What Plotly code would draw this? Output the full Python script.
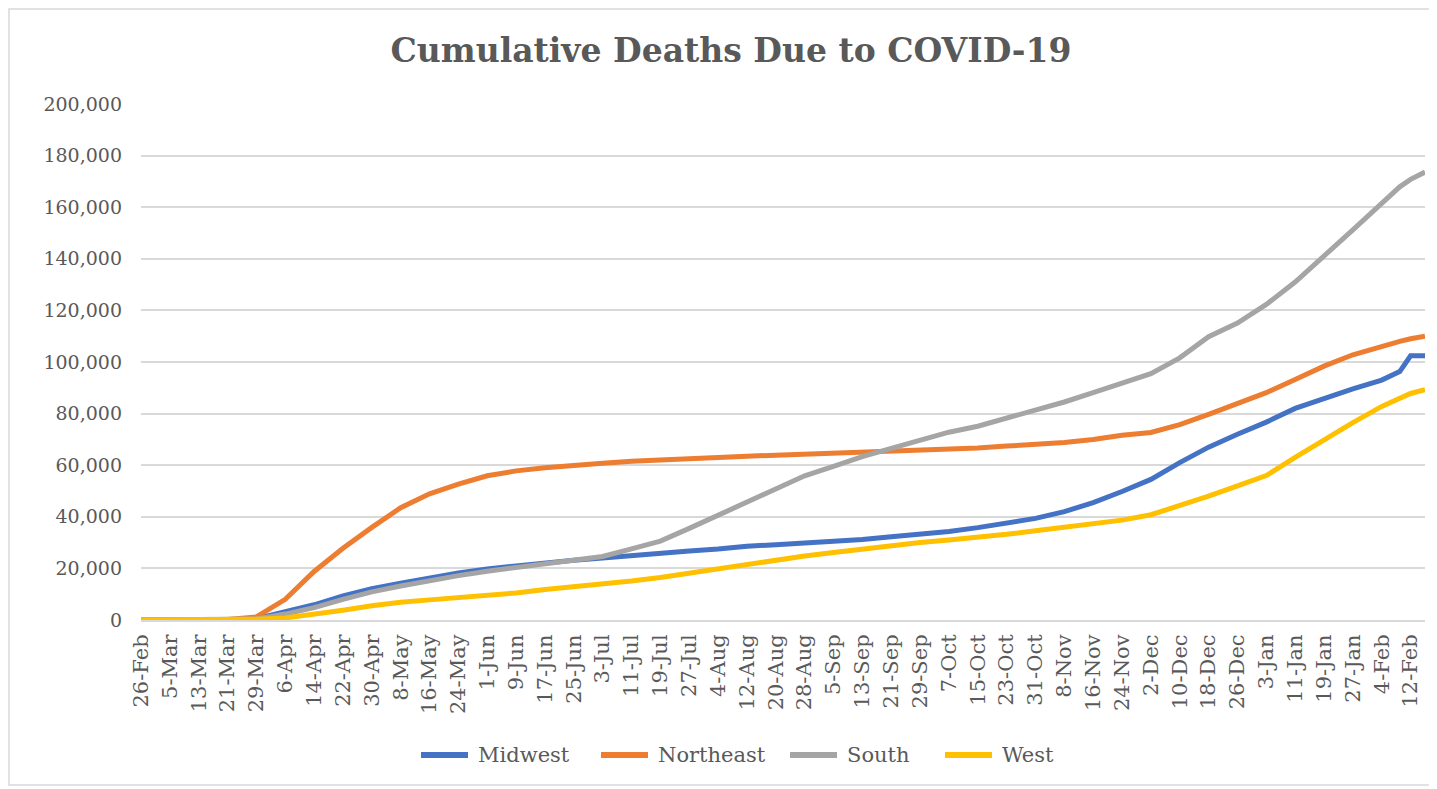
import plotly.graph_objects as go

dates = [
    "2020-02-26", "2020-03-05", "2020-03-13", "2020-03-21", "2020-03-29",
    "2020-04-06", "2020-04-14", "2020-04-22", "2020-04-30", "2020-05-08",
    "2020-05-16", "2020-05-24", "2020-06-01", "2020-06-09", "2020-06-17",
    "2020-06-25", "2020-07-03", "2020-07-11", "2020-07-19", "2020-07-27",
    "2020-08-04", "2020-08-12", "2020-08-20", "2020-08-28", "2020-09-05",
    "2020-09-13", "2020-09-21", "2020-09-29", "2020-10-07", "2020-10-15",
    "2020-10-23", "2020-10-31", "2020-11-08", "2020-11-16", "2020-11-24",
    "2020-12-02", "2020-12-10", "2020-12-18", "2020-12-26", "2021-01-03",
    "2021-01-11", "2021-01-19", "2021-01-27", "2021-02-04", "2021-02-09",
    "2021-02-12", "2021-02-16",
]

midwest = [
    0, 0, 10, 100, 500,
    3200, 5900, 9300, 12100, 14300,
    16300, 18200, 19800, 21000, 22200,
    23200, 24000, 25000, 25800, 26700,
    27500, 28600, 29200, 29800, 30400,
    31200, 32300, 33200, 34300, 35800,
    37400, 39400, 42000, 45500, 49800,
    54500, 61000, 67000, 72000, 76700,
    82000, 85900, 89600, 93000, 96300,
    102400, 102400,
]

northeast = [
    0, 0, 20, 150, 1200,
    8000, 18800, 27800, 35900, 43500,
    48900, 52700, 55900, 57800, 59000,
    60000, 60800, 61500, 62100, 62600,
    63100, 63500, 63900, 64300, 64700,
    65000, 65400, 65700, 66000, 66700,
    67400, 68000, 68800, 70000, 71600,
    72700, 75700, 79700, 84100, 88100,
    93200, 98400, 102800, 106300, 108000,
    109000, 110000,
]

south = [
    0, 0, 10, 80, 400,
    2300, 4800, 8000, 10900, 13200,
    15300, 17200, 18900, 20400, 21700,
    23200, 24600, 27600, 30600, 35500,
    40500, 45800, 51000, 55900, 59500,
    63300, 66500, 69700, 72800, 75100,
    78300, 81100, 84500, 88100, 91800,
    95500, 101600, 109800, 115100, 122300,
    131000, 140800, 151200, 161500, 167900,
    170800, 173600,
]

west = [
    0, 0, 10, 60, 300,
    800, 2200, 3800, 5500, 6900,
    7800, 8600, 9500, 10500, 11800,
    12800, 13800, 15100, 16500, 18200,
    20000, 21500, 23200, 24800, 26200,
    27600, 29000, 30000, 31000, 32000,
    33200, 34600, 36100, 37400, 38700,
    40800, 44200, 48000, 52000, 56000,
    63000, 69900, 76500, 82800, 86000,
    87800, 89300,
]

tick_dates = [
    "2020-02-26", "2020-03-05", "2020-03-13", "2020-03-21", "2020-03-29",
    "2020-04-06", "2020-04-14", "2020-04-22", "2020-04-30", "2020-05-08",
    "2020-05-16", "2020-05-24", "2020-06-01", "2020-06-09", "2020-06-17",
    "2020-06-25", "2020-07-03", "2020-07-11", "2020-07-19", "2020-07-27",
    "2020-08-04", "2020-08-12", "2020-08-20", "2020-08-28", "2020-09-05",
    "2020-09-13", "2020-09-21", "2020-09-29", "2020-10-07", "2020-10-15",
    "2020-10-23", "2020-10-31", "2020-11-08", "2020-11-16", "2020-11-24",
    "2020-12-02", "2020-12-10", "2020-12-18", "2020-12-26", "2021-01-03",
    "2021-01-11", "2021-01-19", "2021-01-27", "2021-02-04", "2021-02-12",
]

tick_labels = [
    "26-Feb", "5-Mar", "13-Mar", "21-Mar", "29-Mar",
    "6-Apr", "14-Apr", "22-Apr", "30-Apr", "8-May",
    "16-May", "24-May", "1-Jun", "9-Jun", "17-Jun",
    "25-Jun", "3-Jul", "11-Jul", "19-Jul", "27-Jul",
    "4-Aug", "12-Aug", "20-Aug", "28-Aug", "5-Sep",
    "13-Sep", "21-Sep", "29-Sep", "7-Oct", "15-Oct",
    "23-Oct", "31-Oct", "8-Nov", "16-Nov", "24-Nov",
    "2-Dec", "10-Dec", "18-Dec", "26-Dec", "3-Jan",
    "11-Jan", "19-Jan", "27-Jan", "4-Feb", "12-Feb",
]

y_ticks = [0, 20000, 40000, 60000, 80000, 100000, 120000, 140000, 160000, 180000, 200000]

series_names = ["Midwest", "Northeast", "South", "West"]
series_colors = ["#4472C4", "#ED7D31", "#A5A5A5", "#FFC000"]
series_values = [midwest, northeast, south, west]

FONT = "Georgia, 'DejaVu Serif', serif"
GRAY = "#595959"

# The page body has an 8px margin; size the figure so the plot lands where the reference has it
PAGE_OFF = 8
PLOT_L, PLOT_R, PLOT_T, PLOT_B = 141, 1425, 104, 620
W, H = 1437 - PAGE_OFF, 789 - PAGE_OFF

fig = go.Figure()
for name, vals, color in zip(series_names, series_values, series_colors):
    fig.add_trace(go.Scatter(
        x=dates, y=vals, mode="lines", name=name,
        line=dict(color=color, width=5),
        showlegend=False,
    ))


def px_x(page_x):
    return (page_x - PLOT_L) / (PLOT_R - PLOT_L)


def px_y(page_y):
    return (PLOT_B - page_y) / (PLOT_B - PLOT_T)


fig.update_layout(
    width=W, height=H,
    paper_bgcolor="white", plot_bgcolor="white",
    margin=dict(l=PLOT_L - PAGE_OFF, r=W - (PLOT_R - PAGE_OFF),
                t=PLOT_T - PAGE_OFF, b=H - (PLOT_B - PAGE_OFF), pad=0),
    font=dict(family=FONT, color=GRAY),
    title=dict(
        text="<b>Cumulative Deaths Due to COVID-19</b>",
        xref="container", x=(731 - PAGE_OFF) / W, xanchor="center",
        yref="container", y=1 - (50 - PAGE_OFF) / H, yanchor="middle",
        font=dict(family=FONT, size=33, color=GRAY),
    ),
    xaxis=dict(
        type="date",
        range=["2020-02-26", "2021-02-16"],
        tickmode="array", tickvals=tick_dates, ticktext=tick_labels,
        tickangle=-90, tickfont=dict(size=21, color=GRAY),
        showgrid=False, zeroline=False,
        showline=True, linecolor="#d9d9d9", linewidth=2,
        ticks="", ticklabelstandoff=4,
    ),
    yaxis=dict(
        range=[0, 200000],
        tickmode="array", tickvals=y_ticks, tickformat=",d",
        tickfont=dict(size=19, color=GRAY),
        showgrid=True, gridcolor="#d9d9d9", gridwidth=2,
        zeroline=False, ticks="", ticklabelstandoff=18,
    ),
    showlegend=False,
)

# chart border
fig.add_shape(
    type="rect", xref="paper", yref="paper",
    x0=px_x(9), x1=px_x(1432), y0=px_y(785), y1=px_y(9),
    line=dict(color="#d9d9d9", width=1.5),
    fillcolor="rgba(0,0,0,0)", layer="below",
)

# legend drawn manually (sample line + label), positions as in the reference
legend_sample_x = [418, 598, 787, 942]
legend_y = 755
for name, color, sx in zip(series_names, series_colors, legend_sample_x):
    fig.add_shape(
        type="line", xref="paper", yref="paper",
        x0=px_x(sx + 3), x1=px_x(sx + 50), y0=px_y(legend_y), y1=px_y(legend_y),
        line=dict(color=color, width=6),
    )
    fig.add_annotation(
        xref="paper", yref="paper", x=px_x(sx + 58), y=px_y(legend_y),
        xanchor="left", yanchor="middle", showarrow=False,
        text=name, font=dict(family=FONT, size=21, color=GRAY),
    )

fig.write_html("out.html")
